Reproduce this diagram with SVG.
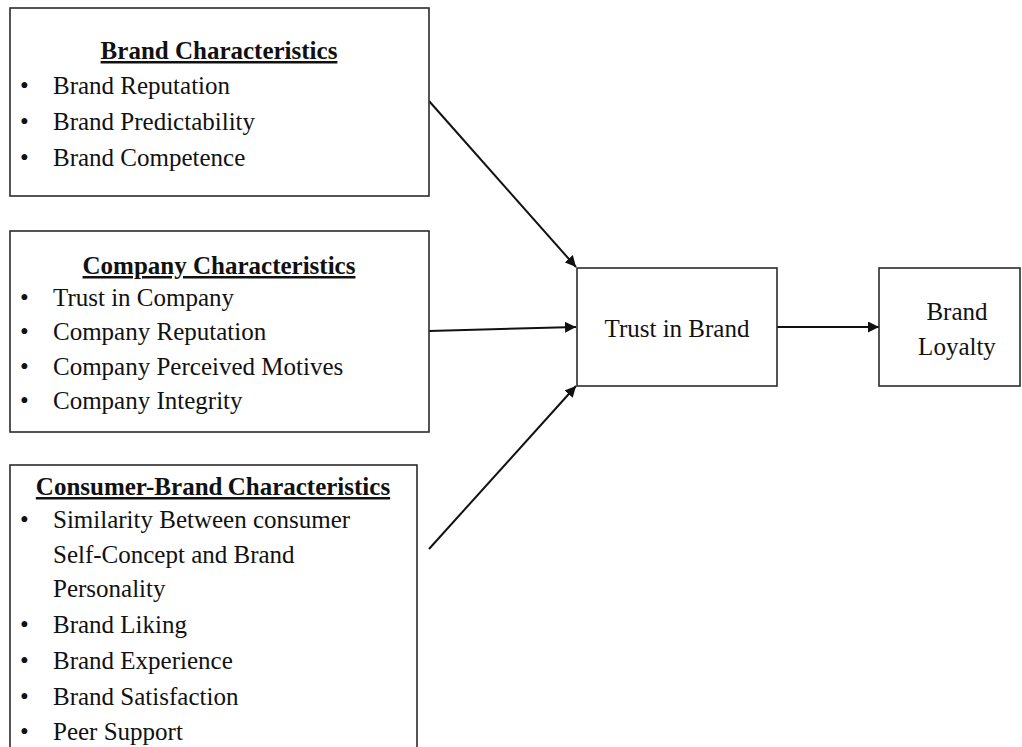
<svg xmlns="http://www.w3.org/2000/svg" width="1022" height="747" viewBox="0 0 1022 747">
  <style>
    .box { fill: #ffffff; stroke: #2b2b2b; stroke-width: 1.6; }
    .txt { font-family: "Liberation Serif", "Times New Roman", serif; font-size: 25px; fill: #111111; }
    .title { font-weight: bold; text-decoration: underline; text-anchor: middle; }
    .mid { text-anchor: middle; }
    .edge { stroke: #111111; stroke-width: 2; fill: none; marker-end: url(#arrow); }
  </style>
  <defs>
    <marker id="arrow" viewBox="0 0 10 10" refX="10" refY="5" markerWidth="5.5" markerHeight="5.5" orient="auto" markerUnits="strokeWidth">
      <path d="M0,0 L10,5 L0,10 z" fill="#111111"/>
    </marker>
  </defs>
  <rect width="1022" height="747" fill="#ffffff"/>

  <g id="connectors">
    <line class="edge" x1="429" y1="101" x2="576" y2="267"/>
    <line class="edge" x1="429" y1="331" x2="576" y2="327"/>
    <line class="edge" x1="429" y1="549" x2="576" y2="386"/>
    <line class="edge" x1="777" y1="327" x2="879" y2="327"/>
  </g>

  <g id="brand-characteristics">
    <rect class="box" x="10" y="8" width="419" height="188"/>
    <text class="txt title" x="219" y="59">Brand Characteristics</text>
    <text class="txt" x="20" y="94">•</text><text class="txt" x="53" y="94">Brand Reputation</text>
    <text class="txt" x="20" y="130">•</text><text class="txt" x="53" y="130">Brand Predictability</text>
    <text class="txt" x="20" y="166">•</text><text class="txt" x="53" y="166">Brand Competence</text>
  </g>

  <g id="company-characteristics">
    <rect class="box" x="10" y="231" width="419" height="201"/>
    <text class="txt title" x="219" y="274">Company Characteristics</text>
    <text class="txt" x="20" y="306">•</text><text class="txt" x="53" y="306">Trust in Company</text>
    <text class="txt" x="20" y="340">•</text><text class="txt" x="53" y="340">Company Reputation</text>
    <text class="txt" x="20" y="375">•</text><text class="txt" x="53" y="375">Company Perceived Motives</text>
    <text class="txt" x="20" y="409">•</text><text class="txt" x="53" y="409">Company Integrity</text>
  </g>

  <g id="consumer-brand-characteristics">
    <rect class="box" x="10" y="465" width="407" height="300"/>
    <text class="txt title" x="213" y="495" word-spacing="-1">Consumer-Brand Characteristics</text>
    <text class="txt" x="20" y="528">•</text><text class="txt" x="53" y="528">Similarity Between consumer</text>
    <text class="txt" x="53" y="563">Self-Concept and Brand</text>
    <text class="txt" x="53" y="597">Personality</text>
    <text class="txt" x="20" y="633">•</text><text class="txt" x="53" y="633">Brand Liking</text>
    <text class="txt" x="20" y="669">•</text><text class="txt" x="53" y="669">Brand Experience</text>
    <text class="txt" x="20" y="705">•</text><text class="txt" x="53" y="705">Brand Satisfaction</text>
    <text class="txt" x="20" y="740">•</text><text class="txt" x="53" y="740">Peer Support</text>
  </g>

  <g id="trust-in-brand">
    <rect class="box" x="577" y="268" width="200" height="118"/>
    <text class="txt mid" x="677" y="337">Trust in Brand</text>
  </g>

  <g id="brand-loyalty">
    <rect class="box" x="879" y="268" width="141" height="118"/>
    <text class="txt mid" x="957" y="320">Brand</text>
    <text class="txt mid" x="957" y="355">Loyalty</text>
  </g>
</svg>
